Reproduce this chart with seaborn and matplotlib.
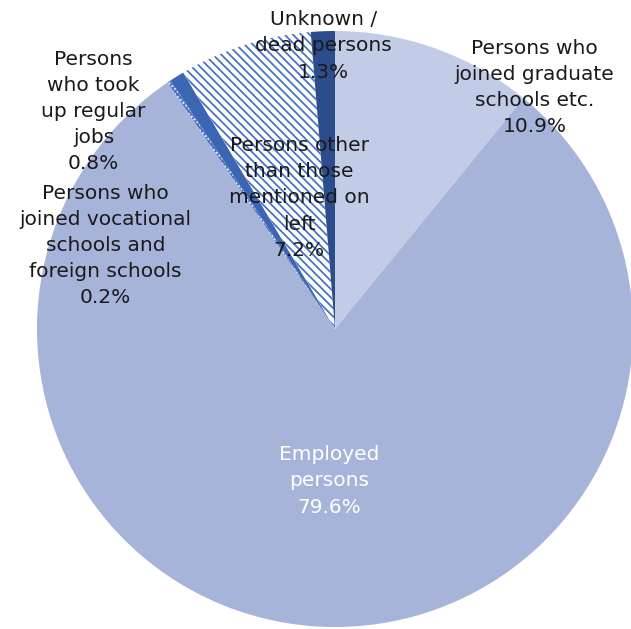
import seaborn as sns
import matplotlib.pyplot as plt

sns.set_theme(style="white")
plt.rcParams['font.family'] = ['DejaVu Sans']
plt.rcParams['hatch.linewidth'] = 1.3

# data, clockwise from 12 o'clock
labels = ["Persons who\njoined graduate\nschools etc.",
          "Employed\npersons",
          "Persons who\njoined vocational\nschools and\nforeign schools",
          "Persons\nwho took\nup regular\njobs",
          "Persons other\nthan those\nmentioned on\nleft",
          "Unknown /\ndead persons"]
values = [10.9, 79.6, 0.2, 0.8, 7.2, 1.3]
colors = ["#c3cce6", "#a7b4da", "#dfe5f4", "#3c66b1", "#ffffff", "#2d4c8b"]
hatches = [None, None, "xxxxxx", None, "\\" * 4, None]
text_colors = ["#1a1a1a", "#ffffff", "#1a1a1a", "#1a1a1a", "#1a1a1a", "#1a1a1a"]
# label block centres in pie-radius units (x right, y up from centre)
label_pos = [(0.67, 0.81), (-0.02, -0.51), (-0.77, 0.28),
             (-0.81, 0.73), (-0.12, 0.44), (-0.04, 0.95)]

fig = plt.figure(figsize=(6.31, 6.29), dpi=100)
ax = fig.add_axes([0, 0, 1, 1])
R = 298.0
cx, cy = 335.0, 329.0

wedges, _ = ax.pie(values, colors=colors, startangle=90, counterclock=False,
                   radius=1.0, wedgeprops=dict(linewidth=0))
for w, h in zip(wedges, hatches):
    if h:
        w.set_hatch(h)
        w.set_edgecolor("#4a72c4")
        w.set_linewidth(0)

ax.set_aspect("auto")
ax.set_xlim(-cx / R, (631 - cx) / R)
ax.set_ylim((cy - 629) / R, cy / R)
ax.axis("off")

for lab, v, (x, y), tc in zip(labels, values, label_pos, text_colors):
    ax.text(x, y, f"{lab}\n{v:.1f}%", ha="center", va="center", fontsize=14.5,
            color=tc, linespacing=1.48)

fig.savefig("out.png", dpi=100)
